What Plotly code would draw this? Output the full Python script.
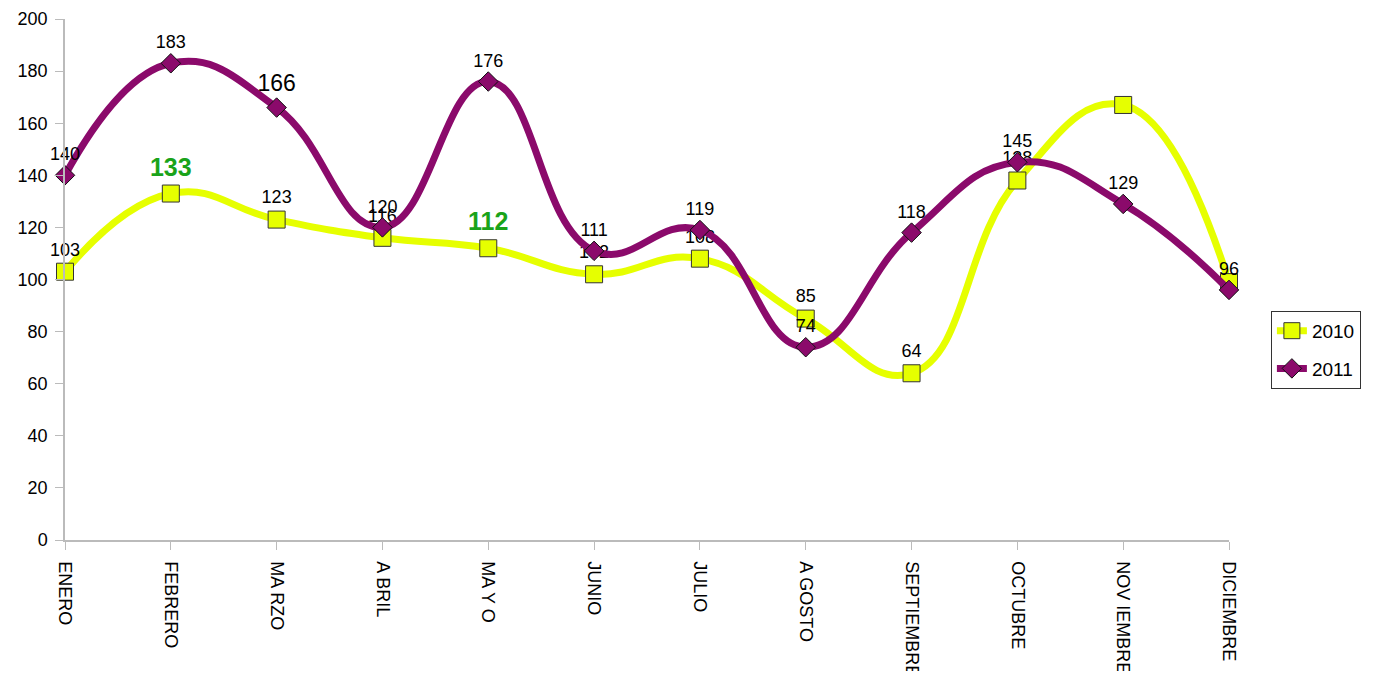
import plotly.graph_objects as go

meses = ["ENERO", "FEBRERO", "MARZO", "ABRIL", "MAYO", "JUNIO", "JULIO",
         "AGOSTO", "SEPTIEMBRE", "OCTUBRE", "NOVIEMBRE", "DICIEMBRE"]
tick_labels = ["ENERO", "FEBRERO", "MA RZO", "A BRIL", "MA Y O", "JUNIO", "JULIO",
               "A GOSTO", "SEPTIEMBRE", "OCTUBRE", "NOV IEMBRE", "DICIEMBRE"]
v2010 = [103, 133, 123, 116, 112, 102, 108, 85, 64, 138, 167, 99]
v2011 = [140, 183, 166, 120, 176, 111, 119, 74, 118, 145, 129, 96]
lab2010 = ["103", "<b>133</b>", "123", "116", "<b>112</b>", "102", "108", "85", "64", "138", "", ""]
lab2011 = [str(v) for v in v2011]

col2010 = ["black", "#1aa31a", "black", "black", "#1aa31a", "black", "black", "black", "black", "black", "black", "black"]
size2010 = [18, 25, 18, 18, 25, 18, 18, 18, 18, 18, 18, 18]
size2011 = [18, 18, 23, 18, 18, 18, 18, 18, 18, 18, 18, 18]

x = list(range(len(meses)))

fig = go.Figure()
fig.add_trace(go.Scatter(
    x=x, y=v2010, name="2010", mode="lines+markers+text", legendgroup="a",
    line=dict(color="#e6ff00", width=7, shape="spline", smoothing=1.3),
    marker=dict(symbol="square", size=17, color="#e6ff00", line=dict(color="#333333", width=1)),
    text=lab2010, textposition="top center",
    textfont=dict(family="Liberation Sans, Arial, sans-serif", size=size2010, color=col2010),
    cliponaxis=False,
))
fig.add_trace(go.Scatter(
    x=x, y=v2011, name="2011", mode="lines+markers+text", legendgroup="b",
    line=dict(color="#8b0a6b", width=7, shape="spline", smoothing=1.3),
    marker=dict(symbol="diamond", size=15, color="#8b0a6b", line=dict(color="#111111", width=1)),
    text=lab2011, textposition="top center",
    textfont=dict(family="Liberation Sans, Arial, sans-serif", size=size2011, color="black"),
    cliponaxis=False,
))

fig.update_layout(
    width=1361, height=663,
    margin=dict(l=57, r=140, t=11, b=131, autoexpand=False),
    paper_bgcolor="white", plot_bgcolor="white",
    font=dict(family="Liberation Sans, Arial, sans-serif", size=18, color="black"),
    showlegend=True,
    legend=dict(x=1.036, y=0.365, xanchor="left", yanchor="middle",
                bordercolor="#333333", borderwidth=1, font=dict(size=19),
                bgcolor="white", itemwidth=30, tracegroupgap=10,
                entrywidth=60),
)
fig.update_xaxes(
    range=[0, 11], tickmode="array", tickvals=x, ticktext=tick_labels,
    tickangle=90, showgrid=False, zeroline=False, showline=True,
    linecolor="#bbbbbb", linewidth=1.5, ticks="outside", ticklen=8, tickcolor="#bbbbbb",
    tickfont=dict(size=18), ticklabelstandoff=8,
)
fig.update_yaxes(
    range=[0, 200], dtick=20, showgrid=False, zeroline=False, showline=True,
    linecolor="#bbbbbb", linewidth=1.5, ticks="outside", ticklen=8, tickcolor="#bbbbbb",
    tickfont=dict(size=18), ticklabelstandoff=4,
)

fig.write_html("out.html")
